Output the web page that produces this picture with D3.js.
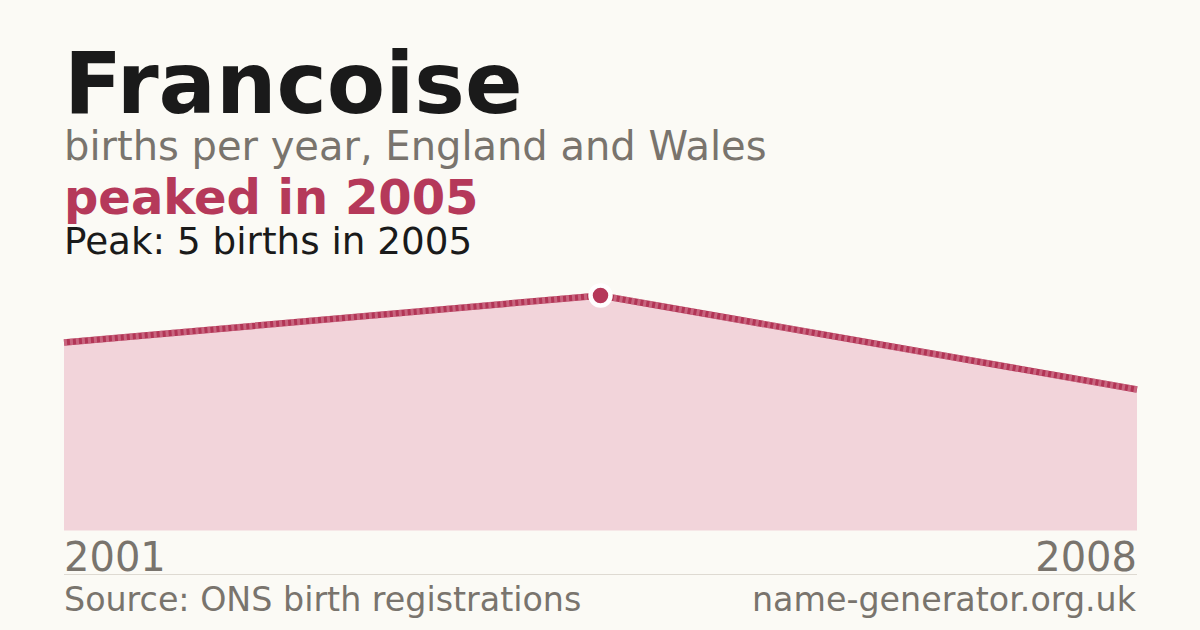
<!DOCTYPE html>
<html>
<head>
<meta charset="utf-8">
<script src="https://cdn.jsdelivr.net/npm/d3@7"></script>
<style>
  html, body { margin: 0; padding: 0; background: #fbfaf5; }
  svg { display: block; }
  text { font-family: "DejaVu Sans", sans-serif; }
</style>
</head>
<body>
<svg id="chart" width="1200" height="630"></svg>
<script>
const years = ["2001", "2005", "2008"];
const births = [4, 5, 3];
const axisLabels = ["2001", "2008"];
const titleText = "Francoise";
const subtitleText = "births per year, England and Wales";
const highlightText = "peaked in 2005";
const peakText = "Peak: 5 births in 2005";
const sourceText = "Source: ONS birth registrations";
const siteText = "name-generator.org.uk";

const data = years.map((y, i) => ({ year: y, value: births[i] }));

const svg = d3.select("#chart");
const W = 1200, H = 630;
const left = 64, right = 1137;
const red = "#b5395a";
const gray = "#79746d";

svg.append("rect").attr("width", W).attr("height", H).attr("fill", "#fbfaf5");

const x = d3.scalePoint().domain(years).range([left, right]);
const y = d3.scaleLinear().domain([0, d3.max(births)]).range([530.5, 295.5]);

const area = d3.area()
  .x(d => x(d.year))
  .y0(y(0))
  .y1(d => y(d.value));
const line = d3.line()
  .x(d => x(d.year))
  .y(d => y(d.value));

svg.append("path").datum(data).attr("d", area).attr("fill", "#f2d4da");
svg.append("path").datum(data).attr("d", line)
  .attr("fill", "none").attr("stroke", "#b23556").attr("stroke-width", 6.5);
svg.append("path").datum(data).attr("d", line)
  .attr("fill", "none").attr("stroke", "#d7849a").attr("stroke-width", 6.5)
  .attr("stroke-opacity", 0.6)
  .attr("stroke-dasharray", "3,3");

const peak = data.reduce((a, b) => (b.value > a.value ? b : a));
svg.append("circle")
  .attr("cx", x(peak.year)).attr("cy", y(peak.value))
  .attr("r", 10)
  .attr("fill", red).attr("stroke", "#ffffff").attr("stroke-width", 4.5);

// Titles
svg.append("text").attr("x", 64).attr("y", 113)
  .attr("font-size", 85).attr("font-weight", "bold").attr("fill", "#1a1a1a")
  .text(titleText);
svg.append("text").attr("x", 64).attr("y", 160)
  .attr("font-size", 40).attr("fill", gray)
  .text(subtitleText);
svg.append("text").attr("x", 64).attr("y", 214)
  .attr("font-size", 48).attr("font-weight", "bold").attr("fill", red)
  .text(highlightText);
svg.append("text").attr("x", 64).attr("y", 254)
  .attr("font-size", 37.3).attr("fill", "#1a1a1a")
  .text(peakText);

// Axis labels (first and last)
svg.selectAll("text.axis").data(axisLabels).enter().append("text")
  .attr("class", "axis")
  .attr("x", d => x(d))
  .attr("y", 571)
  .attr("text-anchor", (d, i) => i === 0 ? "start" : "end")
  .attr("font-size", 40).attr("fill", gray)
  .text(d => d);

// Separator
svg.append("line").attr("x1", left).attr("x2", right)
  .attr("y1", 574.5).attr("y2", 574.5)
  .attr("stroke", "#dedad2").attr("stroke-width", 1);

// Footer
svg.append("text").attr("x", 64).attr("y", 611)
  .attr("font-size", 33.3).attr("fill", gray).text(sourceText);
svg.append("text").attr("x", 1136).attr("y", 611)
  .attr("text-anchor", "end")
  .attr("font-size", 33.3).attr("fill", gray).text(siteText);
</script>
</body>
</html>
